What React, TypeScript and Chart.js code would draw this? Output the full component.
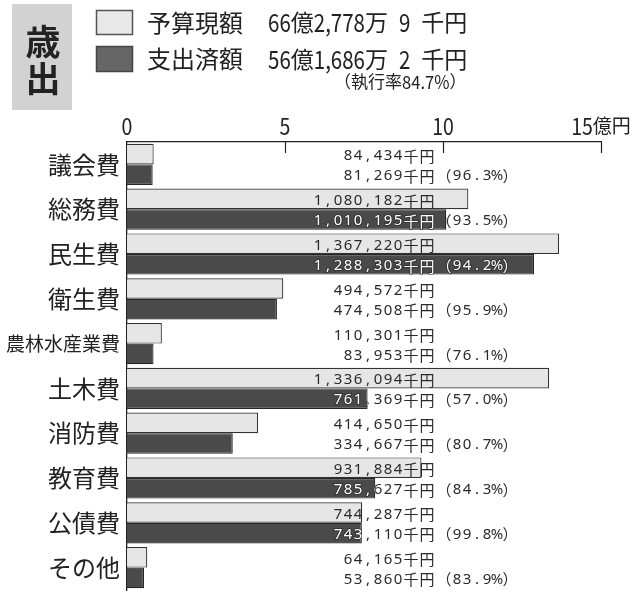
import React, { useEffect, useRef } from "react";
import { Chart, registerables } from "chart.js";

Chart.register(...registerables);

const categories = ["議会費", "総務費", "民生費", "衛生費", "農林水産業費", "土木費", "消防費", "教育費", "公債費", "その他"];
const budgetThousandYen = [84434, 1080182, 1367220, 494572, 110301, 1336094, 414650, 931884, 744287, 64165];
const spentThousandYen = [81269, 1010195, 1288303, 474508, 83953, 761369, 334667, 785627, 743110, 53860];
const execRates = ["96.3", "93.5", "94.2", "95.9", "76.1", "57.0", "80.7", "84.3", "99.8", "83.9"];
const xTicks = [0, 5, 10, 15];
const xTickNums = ["0", "5", "10", "15"];
const xUnit = "億円";
const legendNames = ["予算現額", "支出済額"];
const legendTotals = ["66億2,778万 9 千円", "56億1,686万 2 千円"];
const execTotal = "（執行率84.7%）";
const sectionTitle = ["歳", "出"];

const toOku = (v: number) => v / 100000;
const fmt = (v: number) => v.toLocaleString("en-US");

const CJKF = "'Noto Sans CJK JP', 'Noto Sans', sans-serif";
const INK = "#222";

const isAscii = (ch: string) => ch.charCodeAt(0) < 0x2000;

// draw text with condensed ASCII runs, returns width
function drawCond(ctx: any, text: string, x: number, y: number, asciiSize: number, cjkSize: number, asciiScale: number, cjkScale: number, spaceW: number, draw = true) {
  let cx = x;
  const runs: { s: string; a: boolean }[] = [];
  for (const ch of text) {
    const a = isAscii(ch);
    if (runs.length && runs[runs.length - 1].a === a) runs[runs.length - 1].s += ch;
    else runs.push({ s: ch, a });
  }
  ctx.textAlign = "left";
  ctx.textBaseline = "middle";
  for (const r of runs) {
    if (r.a) {
      const parts = r.s.split(" ");
      parts.forEach((p, pi) => {
        if (pi > 0) cx += spaceW;
        if (!p) return;
        ctx.font = `${asciiSize}px ${CJKF}`;
        const w = ctx.measureText(p).width * asciiScale;
        if (draw) {
          ctx.save();
          ctx.translate(cx, y);
          ctx.scale(asciiScale, 1);
          ctx.fillText(p, 0, 0);
          ctx.restore();
        }
        cx += w;
      });
    } else {
      ctx.font = `${cjkSize}px ${CJKF}`;
      const w = ctx.measureText(r.s).width * cjkScale;
      if (draw) {
        ctx.save();
        ctx.translate(cx, y);
        ctx.scale(cjkScale, 1);
        ctx.fillText(r.s, 0, 0);
        ctx.restore();
      }
      cx += w;
    }
  }
  return cx - x;
}

// fixed-cell text (ASCII 10px cells, full-width 16px cells)
const cellW = (ch: string) => (isAscii(ch) ? 10 : 16);
const cellsWidth = (t: string) => Array.from(t).reduce((s, c) => s + cellW(c), 0);
function drawCells(ctx: any, text: string, x: number, y: number, mode: "fill" | "stroke" = "fill") {
  let cx = x;
  ctx.textAlign = "center";
  ctx.textBaseline = "middle";
  for (const ch of Array.from(text)) {
    const w = cellW(ch);
    ctx.font = isAscii(ch) ? `15px 'Noto Sans', ${CJKF}` : `15px ${CJKF}`;
    if (mode === "fill") ctx.fillText(ch, cx + w / 2, y);
    else ctx.strokeText(ch, cx + w / 2, y);
    cx += w;
  }
}

const decorations = {
  id: "decorations",
  afterDraw(chart: any) {
    const ctx = chart.ctx;
    ctx.save();
    // header
    ctx.fillStyle = "#d2d2d2";
    ctx.fillRect(12, 4, 60, 106);
    ctx.fillStyle = INK;
    ctx.font = `bold 35px ${CJKF}`;
    ctx.textAlign = "center";
    ctx.textBaseline = "middle";
    ctx.fillText(sectionTitle[0], 43, 42);
    ctx.fillText(sectionTitle[1], 43, 79);

    ctx.lineWidth = 1.5;
    ctx.fillStyle = "#e8e8e8";
    ctx.strokeStyle = "#555";
    ctx.fillRect(96.5, 10.5, 36, 24);
    ctx.strokeRect(96.5, 10.5, 36, 24);
    ctx.fillStyle = "#666";
    ctx.strokeStyle = "#444";
    ctx.fillRect(96.5, 46.5, 36, 25);
    ctx.strokeRect(96.5, 46.5, 36, 25);

    ctx.fillStyle = INK;
    const rows = [22.5, 59];
    rows.forEach((ry, i) => {
      drawCond(ctx, legendNames[i], 147, ry, 24, 24, 1, 1, 8);
      drawCond(ctx, legendTotals[i], 268, ry, 25, 23, 0.82, 1, 11);
    });
    drawCond(ctx, execTotal, 334, 82, 18, 17, 0.92, 1, 5);

    // x tick labels (top)
    const xs = chart.scales.x;
    xTicks.forEach((t, i) => {
      const px = xs.getPixelForValue(t);
      const isLast = i === xTicks.length - 1;
      const wNum = drawCond(ctx, xTickNums[i], 0, 0, 23, 19, 0.85, 1, 5, false);
      const wUnit = isLast ? drawCond(ctx, xUnit, 0, 0, 23, 19, 0.85, 1, 5, false) : 0;
      const start = px - (wNum + wUnit) / 2;
      drawCond(ctx, xTickNums[i] + (isLast ? xUnit : ""), start, 126, 23, 19, 0.85, 1, 5);
    });

    // downward tick marks on top axis
    ctx.strokeStyle = INK;
    ctx.lineWidth = 1.2;
    xTicks.forEach((t) => {
      if (t === 0) return;
      const px = Math.round(xs.getPixelForValue(t)) + 0.5;
      ctx.beginPath();
      ctx.moveTo(px, chart.chartArea.top);
      ctx.lineTo(px, chart.chartArea.top + 11);
      ctx.stroke();
    });
    ctx.restore();

    // value labels
    const m0 = chart.getDatasetMeta(0);
    const m1 = chart.getDatasetMeta(1);
    const rightX = xs.getPixelForValue(0) + 308;
    categories.forEach((_, i) => {
      const b0 = m0.data[i];
      const b1 = m1.data[i];
      const y0 = b0.y + 2;
      const y1 = b1.y + 1.5;
      const t0 = fmt(budgetThousandYen[i]) + "千円";
      const t1 = fmt(spentThousandYen[i]) + "千円";
      const pct = "（" + execRates[i] + "%）";
      ctx.save();
      ctx.fillStyle = "#2a2a2a";
      drawCells(ctx, t0, rightX - cellsWidth(t0), y0);
      drawCells(ctx, t1, rightX - cellsWidth(t1), y1);
      drawCells(ctx, pct, rightX + 1, y1);
      const h = b1.height;
      ctx.beginPath();
      ctx.rect(b1.base, b1.y - h / 2, b1.x - b1.base, h);
      ctx.clip();
      ctx.lineWidth = 2;
      ctx.strokeStyle = "#333";
      drawCells(ctx, t1, rightX - cellsWidth(t1), y1, "stroke");
      drawCells(ctx, pct, rightX + 1, y1, "stroke");
      ctx.fillStyle = "#ffffff";
      drawCells(ctx, t1, rightX - cellsWidth(t1), y1);
      drawCells(ctx, pct, rightX + 1, y1);
      ctx.restore();
    });
  },
};

function ChartView() {
  const ref = useRef<HTMLCanvasElement | null>(null);
  useEffect(() => {
    if (!ref.current) return;
    const chart = new Chart(ref.current, {
      type: "bar",
      data: {
        labels: categories,
        datasets: [
          {
            label: legendNames[0],
            data: budgetThousandYen.map(toOku),
            backgroundColor: "#e6e6e6",
            borderColor: "#333333",
            borderWidth: 1.2,
          },
          {
            label: legendNames[1],
            data: spentThousandYen.map(toOku),
            backgroundColor: "#4a4a4a",
            borderColor: "#262626",
            borderWidth: 1.2,
          },
        ],
      },
      options: {
        indexAxis: "y",
        animation: false,
        responsive: false,
        maintainAspectRatio: false,
        layout: { padding: { left: 0, right: 35, top: 0, bottom: 17 } },
        datasets: { bar: { categoryPercentage: 0.92, barPercentage: 1.0 } },
        plugins: { legend: { display: false }, tooltip: { enabled: false } },
        scales: {
          x: {
            position: "top",
            min: 0,
            max: 15,
            afterBuildTicks: (scale: any) => {
              scale.ticks = xTicks.map((v) => ({ value: v }));
            },
            afterFit: (scale: any) => {
              scale.height = 142;
              scale.paddingLeft = 0;
              scale.paddingRight = 0;
            },
            grid: { display: false, drawTicks: false },
            border: { display: true, color: INK, width: 1.3 },
            ticks: { display: false },
          },
          y: {
            afterFit: (scale: any) => {
              scale.width = 127;
              scale.paddingTop = 0;
              scale.paddingBottom = 0;
            },
            grid: { display: false, drawTicks: false },
            border: { display: true, color: INK, width: 1.3 },
            ticks: {
              padding: 7,
              color: INK,
              font: (c: any) => ({ family: CJKF, size: c.index === 4 ? 19 : 24 }),
            },
          },
        },
      },
      plugins: [decorations],
    } as any);
    return () => chart.destroy();
  }, []);
  return <canvas ref={ref} width={636} height={607} style={{ position: "absolute", left: 0, top: 0 }} />;
}

export default function App() {
  return (
    <div style={{ position: "absolute", left: 0, top: 0, width: 636, height: 607, background: "#fff", overflow: "hidden" }}>
      <ChartView />
    </div>
  );
}
